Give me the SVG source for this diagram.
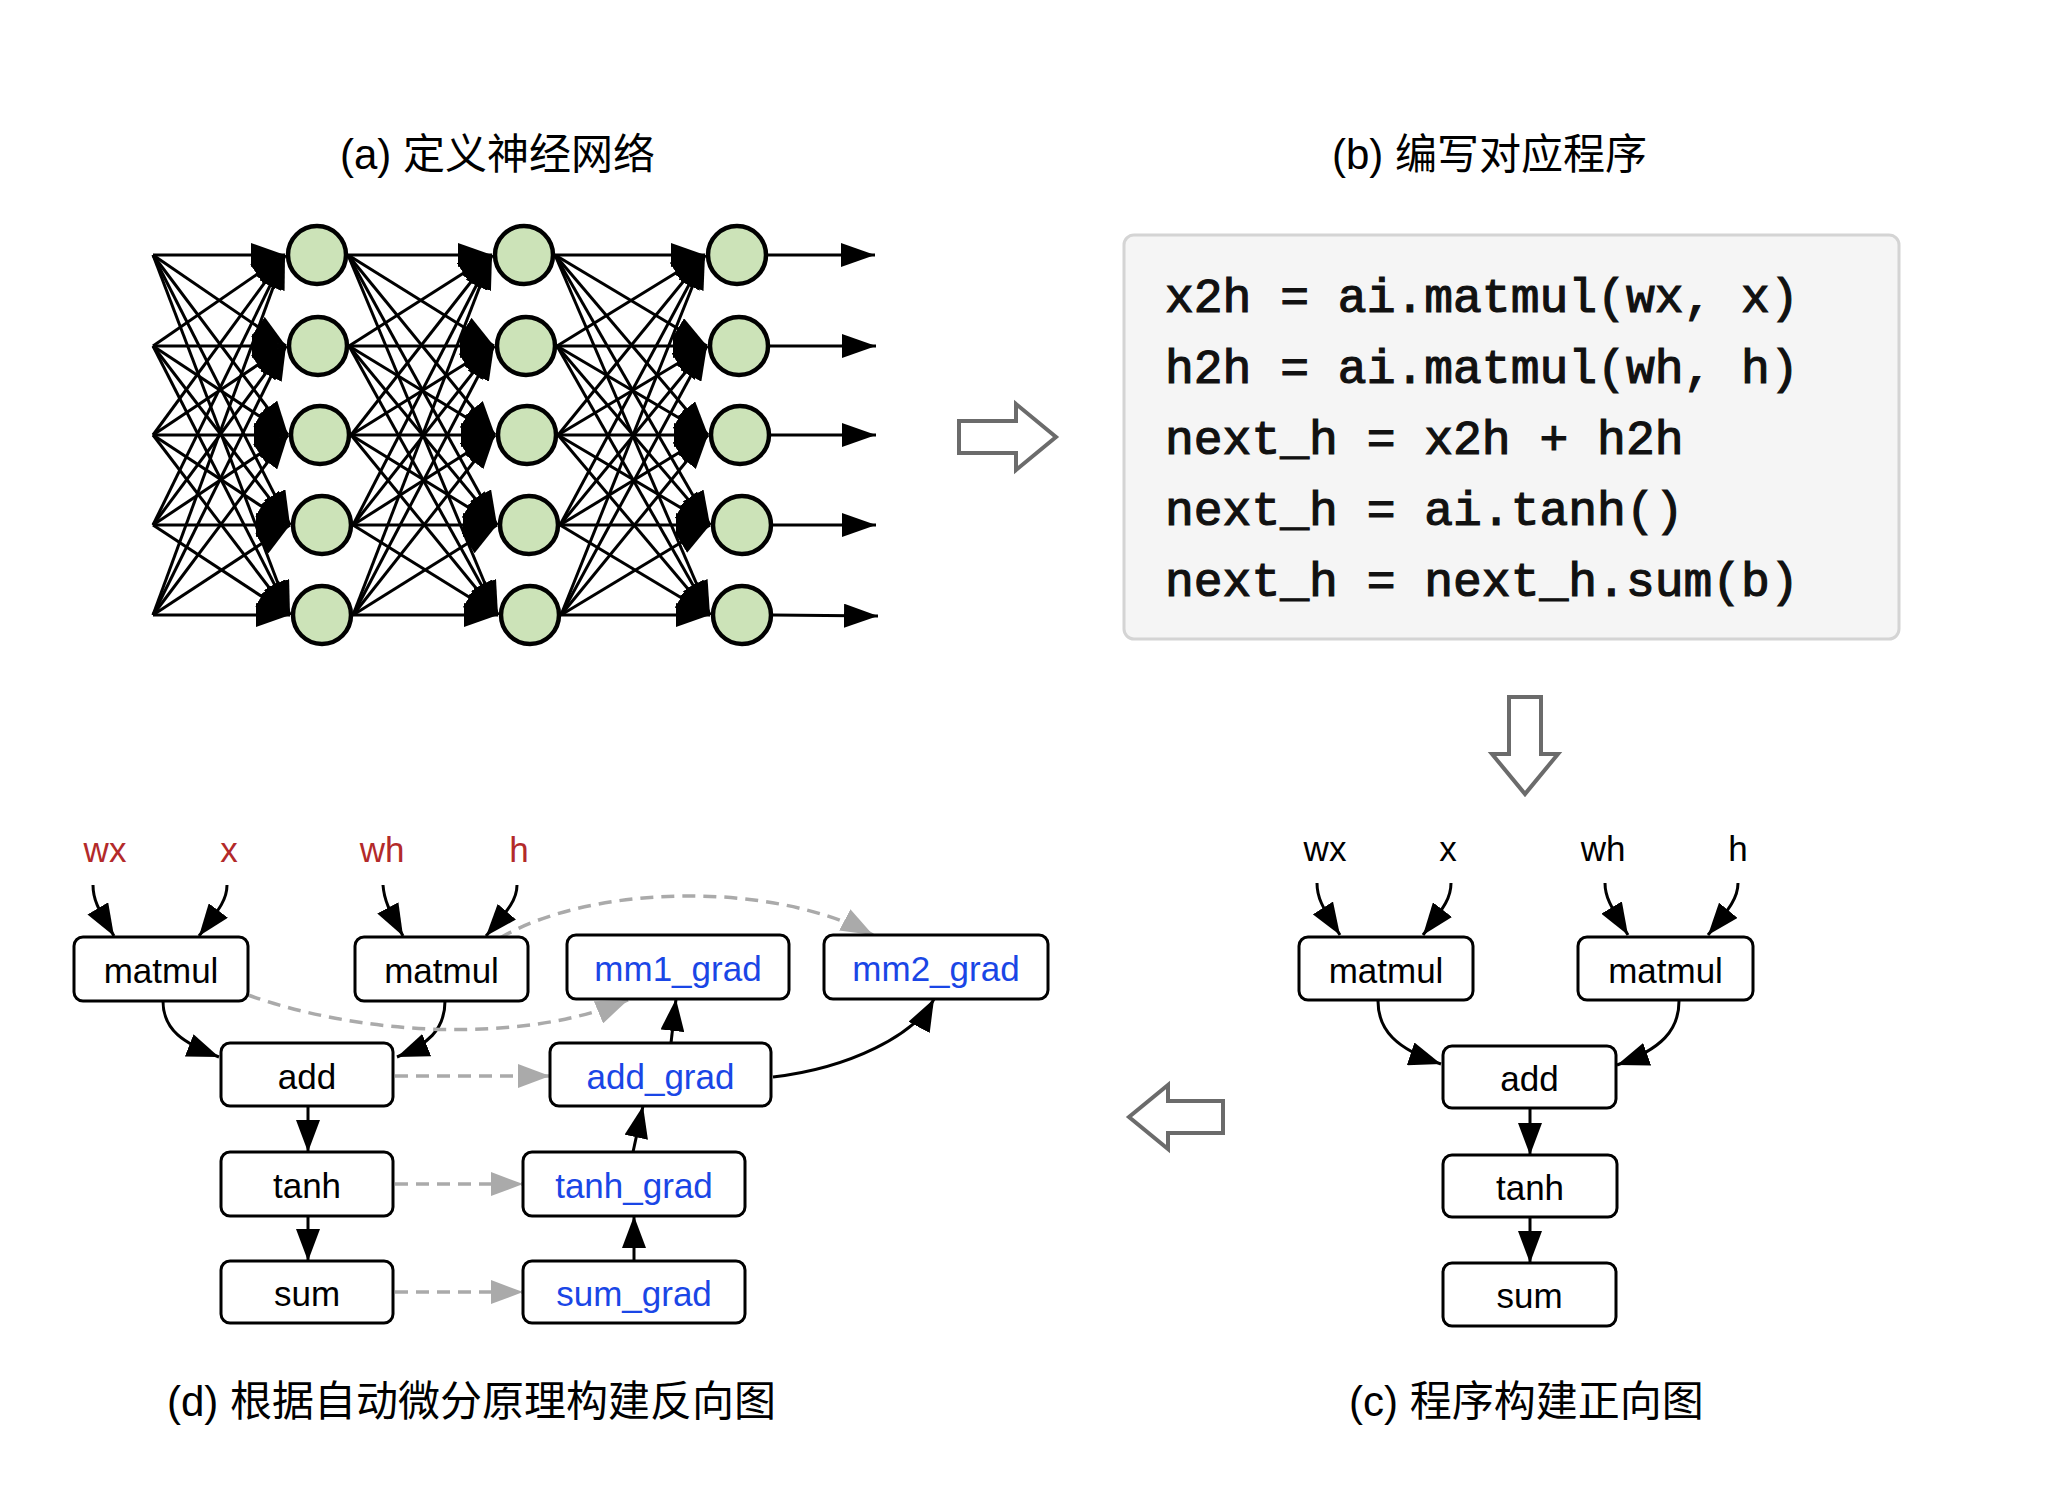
<svg xmlns="http://www.w3.org/2000/svg" width="2048" height="1510" viewBox="0 0 2048 1510">
<style>
.t{font-family:"Liberation Sans","Noto Sans CJK SC",sans-serif;font-size:42px;fill:#000}
.lbl{font-family:"Liberation Sans",Arial,sans-serif;font-size:35px;text-anchor:middle;fill:#000}
.red{fill:#b32a2a}
.blue{fill:#1a46e6}
.box{fill:#fff;stroke:#000;stroke-width:3}
.nn{stroke:#000;stroke-width:3;marker-end:url(#an)}
.neu{fill:#cce3b8;stroke:#000;stroke-width:4.5}
.e{fill:none;stroke:#000;stroke-width:3;marker-end:url(#ab)}
.d{fill:none;stroke:#aaa;stroke-width:3.5;stroke-dasharray:13 8;marker-end:url(#ag)}
.code{font-family:"Liberation Mono","DejaVu Sans Mono",monospace;font-size:48px;fill:#111;stroke:#111;stroke-width:1.2;white-space:pre}
.big{fill:#fff;stroke:#6b6b6b;stroke-width:4}
</style>
<defs>
<marker id="an" markerUnits="userSpaceOnUse" viewBox="0 0 34 24" markerWidth="34" markerHeight="24" refX="34" refY="12" orient="auto"><path d="M0,0 L34,12 L0,24 z" fill="#000"/></marker>
<marker id="ab" markerUnits="userSpaceOnUse" viewBox="0 0 32 24" markerWidth="32" markerHeight="24" refX="32" refY="12" orient="auto"><path d="M0,0 L32,12 L0,24 z" fill="#000"/></marker>
<marker id="ag" markerUnits="userSpaceOnUse" viewBox="0 0 32 24" markerWidth="32" markerHeight="24" refX="32" refY="12" orient="auto"><path d="M0,0 L32,12 L0,24 z" fill="#aaa"/></marker>
</defs>
<rect width="2048" height="1510" fill="#fff"/>

<!-- titles -->
<text class="t" x="340" y="169">(a) 定义神经网络</text>
<text class="t" x="1332" y="169">(b) 编写对应程序</text>
<text class="t" x="167" y="1416">(d) 根据自动微分原理构建反向图</text>
<text class="t" x="1349" y="1416">(c) 程序构建正向图</text>

<!-- hollow arrows -->
<g id="flow-arrows">
<polygon class="big" points="959,421 1016,421 1016,404 1056,437 1016,470 1016,453 959,453"/>
<polygon class="big" points="1509,697 1541,697 1541,754 1558,754 1525,794 1492,754 1509,754"/>
<polygon class="big" points="1223,1101 1168,1101 1168,1085 1129,1117 1168,1149 1168,1133 1223,1133"/>
</g>

<!-- code box -->
<g id="code">
<rect x="1124" y="235" width="775" height="404" rx="10" fill="#f5f5f5" stroke="#d4d4d4" stroke-width="3"/>
<text class="code" x="1165" y="312">x2h = ai.matmul(wx, x)</text>
<text class="code" x="1165" y="383">h2h = ai.matmul(wh, h)</text>
<text class="code" x="1165" y="454">next_h = x2h + h2h</text>
<text class="code" x="1165" y="525">next_h = ai.tanh()</text>
<text class="code" x="1165" y="596">next_h = next_h.sum(b)</text>
</g>

<g id="connectors">
<!-- NN input -> L1 -->
<line class="nn" x1="153" y1="255" x2="285" y2="255"/><line class="nn" x1="153" y1="255" x2="286" y2="346"/><line class="nn" x1="153" y1="255" x2="288" y2="435"/><line class="nn" x1="153" y1="255" x2="290" y2="525"/><line class="nn" x1="153" y1="255" x2="290" y2="615"/>
<line class="nn" x1="153" y1="346" x2="285" y2="255"/><line class="nn" x1="153" y1="346" x2="286" y2="346"/><line class="nn" x1="153" y1="346" x2="288" y2="435"/><line class="nn" x1="153" y1="346" x2="290" y2="525"/><line class="nn" x1="153" y1="346" x2="290" y2="615"/>
<line class="nn" x1="153" y1="435" x2="285" y2="255"/><line class="nn" x1="153" y1="435" x2="286" y2="346"/><line class="nn" x1="153" y1="435" x2="288" y2="435"/><line class="nn" x1="153" y1="435" x2="290" y2="525"/><line class="nn" x1="153" y1="435" x2="290" y2="615"/>
<line class="nn" x1="153" y1="525" x2="285" y2="255"/><line class="nn" x1="153" y1="525" x2="286" y2="346"/><line class="nn" x1="153" y1="525" x2="288" y2="435"/><line class="nn" x1="153" y1="525" x2="290" y2="525"/><line class="nn" x1="153" y1="525" x2="290" y2="615"/>
<line class="nn" x1="153" y1="615" x2="285" y2="255"/><line class="nn" x1="153" y1="615" x2="286" y2="346"/><line class="nn" x1="153" y1="615" x2="288" y2="435"/><line class="nn" x1="153" y1="615" x2="290" y2="525"/><line class="nn" x1="153" y1="615" x2="290" y2="615"/>
<!-- L1 -> L2 -->
<line class="nn" x1="348" y1="255" x2="492" y2="255"/><line class="nn" x1="348" y1="255" x2="494" y2="346"/><line class="nn" x1="348" y1="255" x2="495" y2="435"/><line class="nn" x1="348" y1="255" x2="497" y2="525"/><line class="nn" x1="348" y1="255" x2="498" y2="615"/>
<line class="nn" x1="349" y1="346" x2="492" y2="255"/><line class="nn" x1="349" y1="346" x2="494" y2="346"/><line class="nn" x1="349" y1="346" x2="495" y2="435"/><line class="nn" x1="349" y1="346" x2="497" y2="525"/><line class="nn" x1="349" y1="346" x2="498" y2="615"/>
<line class="nn" x1="351" y1="435" x2="492" y2="255"/><line class="nn" x1="351" y1="435" x2="494" y2="346"/><line class="nn" x1="351" y1="435" x2="495" y2="435"/><line class="nn" x1="351" y1="435" x2="497" y2="525"/><line class="nn" x1="351" y1="435" x2="498" y2="615"/>
<line class="nn" x1="353" y1="525" x2="492" y2="255"/><line class="nn" x1="353" y1="525" x2="494" y2="346"/><line class="nn" x1="353" y1="525" x2="495" y2="435"/><line class="nn" x1="353" y1="525" x2="497" y2="525"/><line class="nn" x1="353" y1="525" x2="498" y2="615"/>
<line class="nn" x1="353" y1="615" x2="492" y2="255"/><line class="nn" x1="353" y1="615" x2="494" y2="346"/><line class="nn" x1="353" y1="615" x2="495" y2="435"/><line class="nn" x1="353" y1="615" x2="497" y2="525"/><line class="nn" x1="353" y1="615" x2="498" y2="615"/>
<!-- L2 -> L3 -->
<line class="nn" x1="555" y1="255" x2="705" y2="255"/><line class="nn" x1="555" y1="255" x2="707" y2="346"/><line class="nn" x1="555" y1="255" x2="708" y2="435"/><line class="nn" x1="555" y1="255" x2="710" y2="525"/><line class="nn" x1="555" y1="255" x2="710" y2="615"/>
<line class="nn" x1="557" y1="346" x2="705" y2="255"/><line class="nn" x1="557" y1="346" x2="707" y2="346"/><line class="nn" x1="557" y1="346" x2="708" y2="435"/><line class="nn" x1="557" y1="346" x2="710" y2="525"/><line class="nn" x1="557" y1="346" x2="710" y2="615"/>
<line class="nn" x1="558" y1="435" x2="705" y2="255"/><line class="nn" x1="558" y1="435" x2="707" y2="346"/><line class="nn" x1="558" y1="435" x2="708" y2="435"/><line class="nn" x1="558" y1="435" x2="710" y2="525"/><line class="nn" x1="558" y1="435" x2="710" y2="615"/>
<line class="nn" x1="560" y1="525" x2="705" y2="255"/><line class="nn" x1="560" y1="525" x2="707" y2="346"/><line class="nn" x1="560" y1="525" x2="708" y2="435"/><line class="nn" x1="560" y1="525" x2="710" y2="525"/><line class="nn" x1="560" y1="525" x2="710" y2="615"/>
<line class="nn" x1="561" y1="615" x2="705" y2="255"/><line class="nn" x1="561" y1="615" x2="707" y2="346"/><line class="nn" x1="561" y1="615" x2="708" y2="435"/><line class="nn" x1="561" y1="615" x2="710" y2="525"/><line class="nn" x1="561" y1="615" x2="710" y2="615"/>
<!-- L3 -> outputs -->
<line class="nn" x1="768" y1="255" x2="875" y2="255"/>
<line class="nn" x1="770" y1="346" x2="876" y2="346"/>
<line class="nn" x1="771" y1="435" x2="876" y2="435"/>
<line class="nn" x1="773" y1="525" x2="876" y2="525"/>
<line class="nn" x1="773" y1="615" x2="878" y2="616"/>

<!-- (c) forward graph -->
<path class="e" d="M1317,883 C1317,897 1321,905 1340,935"/>
<path class="e" d="M1451,883 C1451,897 1446,905 1423,935"/>
<path class="e" d="M1605,883 C1605,897 1610,905 1628,935"/>
<path class="e" d="M1738,883 C1738,897 1731,907 1708,935"/>
<path class="e" d="M1378,1001 C1378,1030 1396,1049 1441,1064"/>
<path class="e" d="M1679,1001 C1679,1030 1662,1049 1617,1065"/>
<path class="e" d="M1530,1108 L1530,1155"/>
<path class="e" d="M1530,1217 L1530,1263"/>

<!-- (d) backward graph -->
<path class="e" d="M93,885 C93,899 97,907 114,936"/>
<path class="e" d="M227,885 C227,899 221,907 199,936"/>
<path class="e" d="M383,885 C384,900 389,910 403,936"/>
<path class="e" d="M517,885 C517,899 510,908 486,936"/>
<path class="e" d="M163,1001 C163,1030 183,1043 219,1057"/>
<path class="e" d="M445,1001 C445,1030 427,1045 397,1057"/>
<path class="e" d="M308,1106 L308,1152"/>
<path class="e" d="M308,1216 L308,1261"/>
<path class="e" d="M634,1261 L634,1216"/>
<path class="e" d="M633,1152 L643,1106"/>
<path class="e" d="M671,1043 L676,999"/>
<path class="e" d="M773,1077 C850,1068 915,1035 934,999"/>
<path class="d" d="M395,1076 L550,1076"/>
<path class="d" d="M395,1184 L523,1184"/>
<path class="d" d="M395,1292 L523,1292"/>
<path class="d" d="M248,995 C360,1035 520,1045 628,1000"/>
<path class="d" d="M500,938 C590,885 770,880 873,935"/>
</g>

<!-- NN neurons -->
<g id="layer1">
<circle class="neu" cx="317" cy="255" r="29"/><circle class="neu" cx="318" cy="346" r="29"/><circle class="neu" cx="320" cy="435" r="29"/><circle class="neu" cx="322" cy="525" r="29"/><circle class="neu" cx="322" cy="615" r="29"/>
</g>
<g id="layer2">
<circle class="neu" cx="524" cy="255" r="29"/><circle class="neu" cx="526" cy="346" r="29"/><circle class="neu" cx="527" cy="435" r="29"/><circle class="neu" cx="529" cy="525" r="29"/><circle class="neu" cx="530" cy="615" r="29"/>
</g>
<g id="layer3">
<circle class="neu" cx="737" cy="255" r="29"/><circle class="neu" cx="739" cy="346" r="29"/><circle class="neu" cx="740" cy="435" r="29"/><circle class="neu" cx="742" cy="525" r="29"/><circle class="neu" cx="742" cy="615" r="29"/>
</g>

<!-- (c) nodes -->
<g id="c-wx"><text class="lbl" x="1325" y="861">wx</text></g>
<g id="c-x"><text class="lbl" x="1448" y="861">x</text></g>
<g id="c-wh"><text class="lbl" x="1603" y="861">wh</text></g>
<g id="c-h"><text class="lbl" x="1738" y="861">h</text></g>
<g id="c-matmul1"><rect class="box" x="1299" y="937" width="174" height="63" rx="9"/><text class="lbl" x="1386" y="983">matmul</text></g>
<g id="c-matmul2"><rect class="box" x="1578" y="937" width="175" height="63" rx="9"/><text class="lbl" x="1665.5" y="983">matmul</text></g>
<g id="c-add"><rect class="box" x="1443" y="1046" width="173" height="62" rx="9"/><text class="lbl" x="1529.5" y="1091">add</text></g>
<g id="c-tanh"><rect class="box" x="1443" y="1155" width="174" height="62" rx="9"/><text class="lbl" x="1530" y="1200">tanh</text></g>
<g id="c-sum"><rect class="box" x="1443" y="1263" width="173" height="63" rx="9"/><text class="lbl" x="1529.5" y="1308">sum</text></g>

<!-- (d) nodes -->
<g id="d-wx"><text class="lbl red" x="105" y="862">wx</text></g>
<g id="d-x"><text class="lbl red" x="229" y="862">x</text></g>
<g id="d-wh"><text class="lbl red" x="382" y="862">wh</text></g>
<g id="d-h"><text class="lbl red" x="519" y="862">h</text></g>
<g id="d-matmul1"><rect class="box" x="74" y="937" width="174" height="64" rx="9"/><text class="lbl" x="161" y="983">matmul</text></g>
<g id="d-matmul2"><rect class="box" x="355" y="937" width="173" height="64" rx="9"/><text class="lbl" x="441.5" y="983">matmul</text></g>
<g id="d-mm1grad"><rect class="box" x="567" y="935" width="222" height="64" rx="9"/><text class="lbl blue" x="678" y="981">mm1_grad</text></g>
<g id="d-mm2grad"><rect class="box" x="824" y="935" width="224" height="64" rx="9"/><text class="lbl blue" x="936" y="981">mm2_grad</text></g>
<g id="d-add"><rect class="box" x="221" y="1043" width="172" height="63" rx="9"/><text class="lbl" x="307" y="1089">add</text></g>
<g id="d-addgrad"><rect class="box" x="550" y="1043" width="221" height="63" rx="9"/><text class="lbl blue" x="660.5" y="1089">add_grad</text></g>
<g id="d-tanh"><rect class="box" x="221" y="1152" width="172" height="64" rx="9"/><text class="lbl" x="307" y="1198">tanh</text></g>
<g id="d-tanhgrad"><rect class="box" x="523" y="1152" width="222" height="64" rx="9"/><text class="lbl blue" x="634" y="1198">tanh_grad</text></g>
<g id="d-sum"><rect class="box" x="221" y="1261" width="172" height="62" rx="9"/><text class="lbl" x="307" y="1306">sum</text></g>
<g id="d-sumgrad"><rect class="box" x="523" y="1261" width="222" height="62" rx="9"/><text class="lbl blue" x="634" y="1306">sum_grad</text></g>
</svg>
